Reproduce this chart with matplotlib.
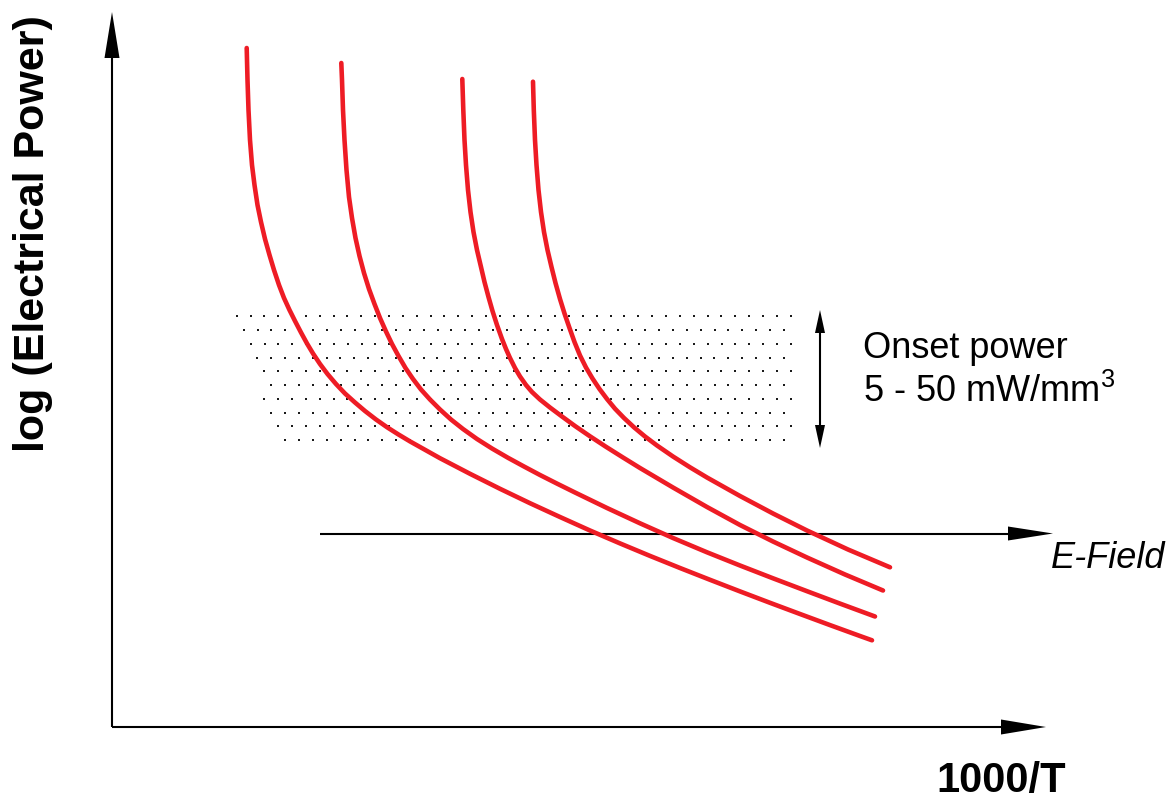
import numpy as np
import matplotlib
matplotlib.use('Agg')
import matplotlib.pyplot as plt

plt.rcParams['font.family'] = ['Liberation Sans', 'DejaVu Sans']
plt.rcParams['mathtext.fontset'] = 'custom'
plt.rcParams['mathtext.rm'] = 'Liberation Sans'

# Diagram units run left->right and top->bottom over the drawing area
# Heating curves, one per applied field strength (strongest field on the left)
curve1_x = [246.7, 247.5, 248.5, 250, 252, 254.5, 257.5, 261, 265, 269.5, 274, 279,
            284, 289.5, 295, 301, 307, 313, 320, 327.5, 336, 345, 355, 365, 376,
            387, 398, 410, 440, 470, 500, 530, 560, 590, 620, 650, 680, 710, 740,
            770, 800, 830, 860, 872]
curve1_y = [48, 80, 110, 140, 165, 185, 205, 222, 239, 255, 270, 285,
            298, 310, 321, 332.5, 343.5, 353.5, 364, 374, 384, 393.5, 402.5, 411, 419.5,
            427.2, 434.2, 441.4, 458.2, 473.8, 488.8, 503.2, 517, 530.5, 543.4, 555.9,
            568, 579.8, 591.4, 602.8, 614, 625.1, 636, 640.3]

curve2_x = [341.3, 342, 343, 344.5, 346.5, 349, 352, 355.5, 359.5, 364, 369, 374.5,
            380, 386, 392, 398.5, 405.5, 413, 421, 430, 440, 451, 463, 477, 492,
            508, 524, 540, 557, 575, 607, 640, 673, 707, 740, 773, 807, 840, 875]
curve2_y = [63, 80, 110, 140, 170, 197, 218, 238, 256, 273, 289, 304,
            318, 331.5, 344, 356, 368, 379, 389.5, 399.5, 409.5, 419.5, 429, 439, 448.5,
            457.8, 466.5, 475, 483.6, 492.5, 508, 523.3, 538, 552.3, 565.5, 578.3,
            591.2, 603.6, 616.5]

curve3_x = [462.3, 463.3, 464.5, 466, 468, 470.5, 473.5, 477, 481, 484.5, 488.5,
            492.5, 497, 502, 506, 510, 515, 520, 526, 532, 540, 550, 562, 575, 590,
            606, 623, 640, 673, 707, 740, 773, 807, 845, 883]
curve3_y = [79, 110, 140, 165, 190, 212, 232, 250, 267, 282, 297,
            311, 325, 339, 349, 358, 368, 376.5, 385, 392, 399.5, 407.5, 416.5, 426,
            436.3, 446.8, 457.5, 468, 487.5, 507, 525, 541.5, 557.5, 574.5, 590.5]

curve4_x = [533, 533.8, 535, 536.5, 538.5, 541, 544, 547.5, 551.5, 555.5, 560,
            564.5, 569.5, 574.5, 580, 586, 592.5, 599.5, 607, 615, 624, 634, 645,
            657, 673, 690, 707, 740, 773, 807, 848, 890]
curve4_y = [81.7, 110, 140, 165, 190, 212, 232, 250, 267, 283, 299,
            313.5, 328, 342, 355.5, 367.5, 378.5, 389, 399, 408.7, 418, 427.3, 436.5,
            445.5, 456.5, 467.3, 477.5, 496, 513.5, 530.5, 549.5, 567.3]

curves = [(curve1_x, curve1_y), (curve2_x, curve2_y),
          (curve3_x, curve3_y), (curve4_x, curve4_y)]

# Dotted band of onset power: row heights and where each row starts / stops
band_rows_y = [316, 330, 344, 357.5, 371, 385, 399, 413, 426, 440]
band_rows_x0 = [236.7, 243.7, 250.7, 257.3, 264.3, 271.3, 264.3, 271.3, 278.3, 285.3]
band_rows_x1 = [790.7, 783.3, 790.7, 783.3, 790.7, 783.3, 790.7, 783.3, 790.7, 783.3]
band_pitch = 13.85

# Axes and arrows
origin = (112, 727)
x_axis_tip = 1046
y_axis_tip = 12
efield_y = 533.5
efield_x = (320, 1053)
onset_x = 820
onset_y = (310, 448)

red = '#ee1c25'

fig = plt.figure(figsize=(11.76, 7.99), dpi=100)
ax = fig.add_axes([0, 0, 1, 1])
ax.set_xlim(0, 1176)
ax.set_ylim(799, 0)
ax.axis('off')


def arrow_head(ax, tip_x, tip_y, dx, dy, length, half_w):
    # filled triangle pointing along (dx, dy)
    bx, by = tip_x - dx * length, tip_y - dy * length
    px, py = -dy * half_w, dx * half_w
    ax.fill([tip_x, bx + px, bx - px], [tip_y, by + py, by - py],
            color='black', lw=0, zorder=5)


# axes
ax.plot([origin[0], origin[0]], [origin[1], y_axis_tip + 40], color='black',
        lw=1.5, solid_capstyle='butt')
arrow_head(ax, origin[0], y_axis_tip, 0, -1, 46, 7.5)
ax.plot([origin[0], x_axis_tip - 40], [origin[1], origin[1]], color='black',
        lw=1.5, solid_capstyle='butt')
arrow_head(ax, x_axis_tip, origin[1], 1, 0, 45, 7.5)

# dotted band
for y, x0, x1 in zip(band_rows_y, band_rows_x0, band_rows_x1):
    xs = np.arange(x0, x1 + 1, band_pitch)
    ax.scatter(xs, np.full(len(xs), y), s=2.6, marker='s', color='#1a1a1a',
               linewidths=0, zorder=2)

# curves
for cx, cy in curves:
    ax.plot(cx, cy, color=red, lw=3.3, solid_capstyle='round',
            solid_joinstyle='round', zorder=4)

# E-field arrow
ax.plot([efield_x[0], efield_x[1] - 40], [efield_y, efield_y], color='black',
        lw=1.5, solid_capstyle='butt', zorder=3)
arrow_head(ax, efield_x[1], efield_y, 1, 0, 45, 7)
ax.text(1051, 568, 'E-Field', fontsize=26, style='italic', ha='left',
        va='baseline')

# onset power range
ax.plot([onset_x, onset_x], [onset_y[0] + 15, onset_y[1] - 15], color='black',
        lw=1.5, solid_capstyle='butt')
arrow_head(ax, onset_x, onset_y[0], 0, -1, 23, 5)
arrow_head(ax, onset_x, onset_y[1], 0, 1, 23, 5)
ax.text(863, 358, 'Onset power', fontsize=26, ha='left', va='baseline')
ax.text(863, 402, r'5 - 50 mW/mm$^3$', fontsize=26, ha='left', va='baseline')

# axis titles
ax.text(1066, 792, '1000/T', fontsize=30, fontweight='bold', ha='right',
        va='baseline')
ax.text(33, 234, 'log (Electrical Power)', fontsize=31, fontweight='bold',
        rotation=90, ha='center', va='center')

fig.savefig('out.png', dpi=100)
